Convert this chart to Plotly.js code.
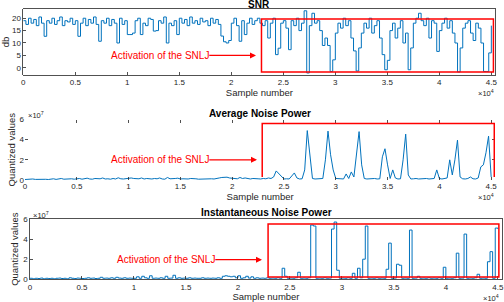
<!DOCTYPE html>
<html>
<head>
<meta charset="utf-8">
<script src="https://cdn.plot.ly/plotly-3.0.1.min.js"></script>
<style>html,body{margin:0;padding:0;background:#fff;}#chart{width:504px;height:302px;}</style>
</head>
<body>
<div id="chart"></div>
<script>
// ---- data (one value every 250 samples) ----
const SAMPLE_START = 0;
const SAMPLE_STEP = 250;

const snrDb = [
 19, 17.5, 20, 18, 19.5, 17, 20.5, 18, 12.7, 19,
 18, 20, 17.5, 19, 20.5, 17, 19, 18.5, 20, 17.5,
 19, 12.7, 18, 20, 17, 19.5, 18, 20.5, 17.5, 10.7,
 19, 18, 20, 17, 19.5, 18, 10, 20, 17.5, 19,
 13.4, 13.4, 14, 19, 20, 13.4, 18, 17, 20, 19.5,
 14.8, 15, 19, 18, 20.5, 10, 18, 17, 19, 13.4,
 20, 18, 19.5, 17, 20.5, 18, 19, 17.5, 20, 18.5,
 19, 17, 20, 18, 19.5, 17.5, 12.8, 10.5, 10, 11,
 18, 20, 17, 10.7, 19, 13.4, 18, 20, 17.5, 19,
 20, 18, 17, 19, 12, 18, 20, 5.3, 7.9, 18,
 19, 16, 7.3, 19, 17, 20, 15, 18, 23, -2.1,
 17, 22, 18, 19, 15, 9, 12, 9, -1.5, 3.2,
 14, 18, 16, 20, 17, 19, 12, 6.8, -1.3, 8,
 14, 18, 16, 20, 14, 17, 19, 12, 5.3, -0.8,
 3, 15, 18, 12, 16, 19, 10, 14, -0.8, 8,
 18, 20, 22, 19, 17, 20, 12, 19, 18, 6.6,
 15, 18, 20, 16, 19, 14, 10, -1.7, 8, 16,
 18, 19, 14, 11, 18, 16, 10, -1.5, -1.5, 6,
 17
];

// quantized values in units of 1e7 (as shown by the x10^7 axis factor)
const avgPowerE7 = [
 0.05, 0.08, 0.05, 0.1, 0.06, 0.08, 0.05, 0.1, 0.07, 0.05,
 0.08, 0.12, 0.06, 0.1, 0.15, 0.08, 0.1, 0.06, 0.12, 0.08,
 0.1, 0.15, 0.08, 0.12, 0.18, 0.1, 0.08, 0.15, 0.1, 0.12,
 0.2, 0.1, 0.12, 0.08, 0.15, 0.1, 0.22, 0.12, 0.1, 0.15,
 0.18, 0.2, 0.15, 0.1, 0.12, 0.2, 0.1, 0.15, 0.12, 0.1,
 0.15, 0.12, 0.2, 0.1, 0.08, 0.25, 0.12, 0.1, 0.15, 0.18,
 0.1, 0.12, 0.08, 0.1, 0.15, 0.1, 0.12, 0.08, 0.1, 0.12,
 0.1, 0.15, 0.12, 0.1, 0.18, 0.2, 0.25, 0.3, 0.28, 0.2,
 0.15, 0.1, 0.12, 0.25, 0.15, 0.2, 0.12, 0.1, 0.15, 0.1,
 0.12, 0.1, 0.15, 0.12, 0.2, 0.15, 0.3, 0.9, 0.6, 0.3,
 0.1, 0.12, 0.1, 0.4, 0.7, 0.2, 0.1, 0.12, 1.0, 4.9,
 2.5, 0.15, 0.1, 0.12, 0.1, 0.15, 2.0, 4.85, 2.5, 1.0,
 0.15, 0.1, 0.12, 0.1, 0.6, 0.15, 0.8, 0.3, 2.3, 4.8,
 1.5, 0.15, 0.1, 0.12, 0.1, 0.15, 0.1, 0.12, 2.3, 3.1,
 1.5, 0.15, 1.0, 0.2, 0.1, 0.12, 2.0, 4.55, 0.5, 0.1,
 0.12, 0.15, 0.1, 0.12, 0.1, 0.15, 0.1, 0.12, 0.15, 1.0,
 0.15, 0.1, 0.12, 0.2, 2.0, 0.5, 2.0, 3.96, 0.3, 0.12,
 0.1, 0.15, 0.3, 0.12, 0.1, 0.2, 1.3, 1.5, 2.7, 4.35,
 0.3
];

const instPowerE7 = [
 0.1, 0.05, 0.1, 0.08, 0.12, 0.05, 0.1, 0.08, 0.1, 0.05,
 0.1, 0.12, 0.08, 0.1, 0.05, 0.15, 0.1, 0.08, 0.12, 0.1,
 0.08, 0.1, 0.15, 0.1, 0.12, 0.08, 0.1, 0.2, 0.1, 0.12,
 0.1, 0.15, 0.1, 0.2, 0.12, 0.1, 0.15, 0.1, 0.12, 0.1,
 0.1, 0.25, 0.1, 0.3, 0.15, 0.1, 0.35, 0.1, 0.12, 0.1,
 0.15, 0.1, 0.3, 0.1, 0.12, 0.4, 0.1, 0.15, 0.1, 0.12,
 0.1, 0.15, 0.1, 0.12, 0.1, 0.1, 0.15, 0.1, 0.12, 0.1,
 0.12, 0.1, 0.15, 0.1, 0.3, 0.35, 0.3, 0.25, 0.3, 0.15,
 0.35, 0.1, 0.15, 0.3, 0.12, 0.25, 0.1, 0.15, 0.1, 0.12,
 0.1, 0.15, 0.1, 0.12, 0.1, 0.15, 0.1, 1.1, 0.3, 0.1,
 0.12, 0.1, 0.15, 0.7, 0.1, 0.12, 0.1, 0.15, 5.4, 5.3,
 0.1, 0.12, 0.1, 0.15, 0.1, 0.12, 5.0, 5.7, 0.9, 0.1,
 0.12, 0.1, 0.15, 0.1, 0.6, 0.1, 1.1, 0.15, 2.0, 5.3,
 0.1, 0.12, 0.1, 0.15, 0.1, 0.12, 0.1, 1.0, 3.6, 0.1,
 0.12, 1.5, 1.4, 0.1, 0.12, 0.1, 4.9, 0.1, 0.12, 0.3,
 0.1, 0.12, 0.1, 0.15, 0.1, 0.12, 0.1, 0.15, 0.1, 1.2,
 0.1, 0.12, 0.1, 0.15, 2.6, 0.1, 0.12, 4.5, 0.1, 0.12,
 0.1, 0.15, 0.5, 0.1, 0.12, 0.1, 1.75, 2.75, 0.1, 5.1,
 5.0
];

const xTickVals = [0, 5000, 10000, 15000, 20000, 25000, 30000, 35000, 40000, 45000];
const xTickText = ['0', '0.5', '1', '1.5', '2', '2.5', '3', '3.5', '4', '4.5'];
const snrTickVals = [0, 5, 10, 15, 20];
const powTickVals = [0, 2, 4, 6];

const titles = ['SNR', 'Average Noise Power', 'Instantaneous Noise Power'];
const xTitle = 'Sample number';
const yTitles = ['db', 'Quantized values', 'Quantized values'];
const noteText = 'Activation of the SNLJ';

// ---- styling ----
const W = 504, H = 302;
const BLUE = '#0072BD';
const RED = '#FF0000';
const INK = '#262626';
const FONT = 'Liberation Sans, Arial, Helvetica, sans-serif';
const px = v => v / W;
const py = v => 1 - v / H;

const common = {
  x0: SAMPLE_START, dx: SAMPLE_STEP, type: 'scatter', mode: 'lines',
  line: {color: BLUE, width: 1}, hoverinfo: 'skip', showlegend: false
};

const data = [
  Object.assign({}, common, {y: snrDb, xaxis: 'x', yaxis: 'y', line: {color: BLUE, width: 1, shape: 'hv'}}),
  Object.assign({}, common, {y: avgPowerE7, xaxis: 'x2', yaxis: 'y2'}),
  Object.assign({}, common, {y: instPowerE7, xaxis: 'x3', yaxis: 'y3', line: {color: BLUE, width: 1, shape: 'hv'}})
];

function xAxis(domain, withLine, anchor) {
  return {
    domain: domain, range: [0, 45400], anchor: anchor,
    tickvals: xTickVals, ticktext: xTickText,
    ticks: 'inside', ticklen: 3, tickwidth: 0.8, tickcolor: INK,
    showline: withLine, linecolor: INK, linewidth: 0.8, mirror: withLine ? true : 'ticks',
    showgrid: false, zeroline: false,
    tickfont: {family: FONT, size: 8, color: INK},
    title: {text: xTitle, font: {family: FONT, size: 9.5, color: INK}, standoff: 2}
  };
}
function yAxis(domain, range, tickvals, withLine, anchor, title) {
  return {
    domain: domain, range: range, anchor: anchor,
    tickvals: tickvals,
    ticks: 'inside', ticklen: 3, tickwidth: 0.8, tickcolor: INK,
    showline: withLine, linecolor: INK, linewidth: 0.8, mirror: withLine ? true : 'ticks',
    showgrid: false, zeroline: false,
    tickfont: {family: FONT, size: 8, color: INK},
    title: {text: title, font: {family: FONT, size: 9.5, color: INK}, standoff: 2}
  };
}

const rectStyle = {color: RED, width: 1.5};
const shapes = [
  {type: 'rect', xref: 'x', yref: 'y', x0: 22900, x1: 45200, y0: -1.75, y1: 19.7, line: rectStyle},
  {type: 'path', xref: 'x2', yref: 'y2', path: 'M22900,0.3 L22900,5.6 L45300,5.6 L45300,0.3', line: rectStyle},
  {type: 'rect', xref: 'x3', yref: 'y3', x0: 22900, x1: 45100, y0: 0.23, y1: 5.5, line: rectStyle}
];

// text centre (in samples) and arrow head position
function note(xr, yr, textCentre, head, yv) {
  return {xref: xr, yref: yr, x: head, y: yv, axref: xr, ayref: yr, ax: textCentre, ay: yv,
    text: noteText, showarrow: true, arrowhead: 2, arrowsize: 1, arrowwidth: 1.2,
    arrowcolor: RED, standoff: 0, startstandoff: 0, borderpad: 0,
    font: {family: FONT, size: 10, color: RED}};
}

const titleFont = {family: FONT, size: 10, color: '#000', weight: 'bold'};
const expFont = {family: FONT, size: 7.5, color: INK};
const annotations = [
  {xref: 'paper', yref: 'paper', x: px(259.4), y: py(4.5), text: '<b>' + titles[0] + '</b>', showarrow: false, font: titleFont, yanchor: 'middle'},
  {xref: 'paper', yref: 'paper', x: px(260), y: py(113.5), text: '<b>' + titles[1] + '</b>', showarrow: false, font: titleFont, yanchor: 'middle'},
  {xref: 'paper', yref: 'paper', x: px(266), y: py(212.5), text: '<b>' + titles[2] + '</b>', showarrow: false, font: titleFont, yanchor: 'middle'},
  {xref: 'paper', yref: 'paper', x: px(496), y: py(93), xanchor: 'right', yanchor: 'middle', text: '\u00d710<sup>4</sup>', showarrow: false, font: expFont},
  {xref: 'paper', yref: 'paper', x: px(496), y: py(197), xanchor: 'right', yanchor: 'middle', text: '\u00d710<sup>4</sup>', showarrow: false, font: expFont},
  {xref: 'paper', yref: 'paper', x: px(501), y: py(298), xanchor: 'right', yanchor: 'middle', text: '\u00d710<sup>4</sup>', showarrow: false, font: expFont},
  {xref: 'paper', yref: 'paper', x: px(26), y: py(115), xanchor: 'left', yanchor: 'middle', text: '\u00d710<sup>7</sup>', showarrow: false, font: expFont},
  {xref: 'paper', yref: 'paper', x: px(31), y: py(215), xanchor: 'left', yanchor: 'middle', text: '\u00d710<sup>7</sup>', showarrow: false, font: expFont},
  note('x', 'y', 13124, 22373, 5),
  note('x2', 'y2', 13013, 22396, 2),
  note('x3', 'y3', 13062, 22315, 1.95)
];

const layout = {
  width: W, height: H,
  margin: {l: 0, r: 0, t: 0, b: 0, pad: 0},
  paper_bgcolor: '#fff', plot_bgcolor: '#fff',
  font: {family: FONT, color: INK},
  xaxis: xAxis([px(23.3), px(495.5)], true, 'y'),
  yaxis: yAxis([py(74.7), py(9.3)], [-2.8, 23.6], snrTickVals, true, 'x', yTitles[0]),
  xaxis2: xAxis([px(25), px(495.3)], false, 'y2'),
  yaxis2: yAxis([py(180), py(119.5)], [0, 6], powTickVals, false, 'x2', yTitles[1]),
  xaxis3: xAxis([px(30), px(502)], true, 'y3'),
  yaxis3: yAxis([py(279.3), py(219)], [0, 6], powTickVals, true, 'x3', yTitles[2]),
  shapes: shapes,
  annotations: annotations
};

Plotly.newPlot('chart', data, layout, {staticPlot: true, displayModeBar: false});
</script>
</body>
</html>
